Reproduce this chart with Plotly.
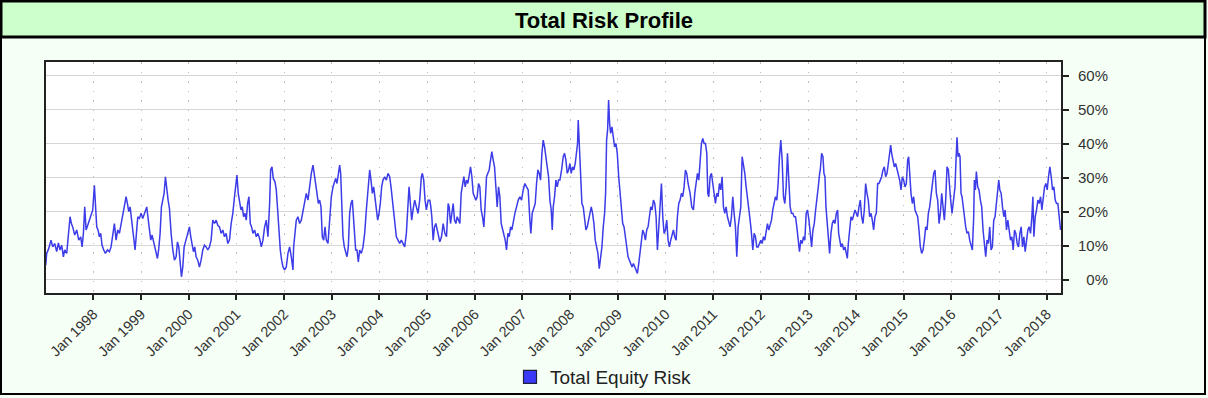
import pandas as pd
import plotly.graph_objects as go

# ---- data: decimal-year dates and total equity risk (%) ----
years_1997_99 = [
    1997.000, 1997.020, 1997.062, 1997.111, 1997.146, 1997.188, 1997.230, 1997.265, 1997.300, 1997.335,
    1997.370, 1997.398, 1997.440, 1997.482, 1997.510, 1997.538, 1997.566, 1997.608, 1997.650, 1997.692,
    1997.734, 1997.762, 1997.790, 1997.818, 1997.846, 1997.881, 1997.916, 1997.951, 1997.986, 1998.021,
    1998.042, 1998.070, 1998.098, 1998.126, 1998.154, 1998.182, 1998.217, 1998.252, 1998.294, 1998.336,
    1998.371, 1998.406, 1998.441, 1998.476, 1998.511, 1998.546, 1998.581, 1998.616, 1998.651, 1998.686,
    1998.714, 1998.742, 1998.770, 1998.798, 1998.826, 1998.854, 1998.875, 1998.903, 1998.931, 1998.966,
    1999.001, 1999.036, 1999.078, 1999.120, 1999.148, 1999.176, 1999.204, 1999.232, 1999.260, 1999.288,
    1999.316, 1999.344, 1999.372, 1999.400, 1999.428, 1999.456, 1999.484, 1999.512, 1999.540, 1999.568,
]
risk_1997_99 = [
    4.2, 7.7, 9.1, 11.6, 9.6, 10.6, 8.2, 10.8, 8.7, 10.1,
    6.7, 8.7, 7.7, 13.6, 18.5, 16.5, 15.5, 13.1, 14.6, 11.6,
    12.6, 9.6, 13.6, 21.4, 14.6, 16.0, 17.5, 18.5, 20.5, 27.8,
    20.5, 15.5, 14.6, 12.6, 13.6, 10.1, 8.7, 7.7, 8.7, 8.2,
    9.6, 13.6, 16.5, 11.6, 14.6, 13.6, 16.5, 18.5, 21.4, 24.4,
    22.4, 20.0, 21.4, 17.5, 13.6, 9.6, 8.7, 13.6, 18.5, 18.0,
    19.5, 18.0, 20.0, 21.4, 18.0, 13.6, 11.6, 13.1, 11.1, 9.6,
    8.2, 6.2, 9.1, 13.6, 21.4, 23.4, 25.4, 30.3, 26.4, 23.4,
]

years_1999_02 = [
    1999.596, 1999.610, 1999.631, 1999.666, 1999.701, 1999.736, 1999.764, 1999.792, 1999.820, 1999.848,
    1999.876, 1999.904, 1999.932, 1999.960, 1999.988, 2000.016, 2000.044, 2000.072, 2000.100, 2000.128,
    2000.156, 2000.191, 2000.226, 2000.261, 2000.296, 2000.331, 2000.366, 2000.401, 2000.436, 2000.471,
    2000.506, 2000.541, 2000.576, 2000.611, 2000.646, 2000.681, 2000.716, 2000.751, 2000.786, 2000.821,
    2000.856, 2000.891, 2000.926, 2000.954, 2000.982, 2001.010, 2001.038, 2001.066, 2001.094, 2001.122,
    2001.150, 2001.178, 2001.206, 2001.234, 2001.262, 2001.290, 2001.318, 2001.346, 2001.381, 2001.416,
    2001.451, 2001.486, 2001.521, 2001.556, 2001.591, 2001.626, 2001.661, 2001.696, 2001.717, 2001.745,
    2001.773, 2001.808, 2001.836, 2001.864, 2001.892, 2001.920, 2001.948, 2001.976, 2002.011, 2002.046,
    2002.081, 2002.116, 2002.151, 2002.186, 2002.200, 2002.221, 2002.256, 2002.291,
]
risk_1999_02 = [
    21.0, 17.5, 13.6, 8.7, 5.7, 6.7, 11.1, 9.6, 5.7, 0.8,
    3.7, 9.6, 11.1, 12.6, 14.6, 15.5, 12.6, 9.6, 8.2, 9.6,
    6.7, 5.7, 3.7, 5.7, 8.7, 10.1, 9.6, 8.7, 9.6, 11.6,
    17.5, 16.5, 17.5, 16.0, 15.5, 13.6, 14.6, 12.6, 13.6, 10.6,
    11.6, 16.5, 19.5, 23.4, 27.3, 30.8, 25.4, 22.4, 20.5, 21.4,
    18.5, 19.5, 17.5, 22.4, 24.4, 16.5, 15.5, 13.6, 14.6, 12.6,
    13.6, 12.1, 9.6, 11.6, 15.5, 17.5, 12.6, 22.4, 32.3, 33.2,
    29.8, 28.8, 26.4, 20.5, 12.6, 8.7, 5.7, 3.7, 2.8, 3.7,
    7.7, 9.6, 6.7, 2.8, 9.6, 13.6, 17.5, 18.5,
]

years_2002_05 = [
    2002.326, 2002.361, 2002.396, 2002.431, 2002.466, 2002.501, 2002.536, 2002.571, 2002.606, 2002.634,
    2002.662, 2002.690, 2002.718, 2002.746, 2002.774, 2002.802, 2002.830, 2002.858, 2002.886, 2002.921,
    2002.956, 2002.991, 2003.026, 2003.054, 2003.082, 2003.110, 2003.138, 2003.166, 2003.187, 2003.208,
    2003.236, 2003.264, 2003.292, 2003.320, 2003.348, 2003.376, 2003.404, 2003.432, 2003.460, 2003.481,
    2003.502, 2003.530, 2003.558, 2003.586, 2003.621, 2003.656, 2003.691, 2003.726, 2003.761, 2003.796,
    2003.824, 2003.852, 2003.880, 2003.908, 2003.936, 2003.964, 2003.992, 2004.020, 2004.048, 2004.076,
    2004.111, 2004.146, 2004.181, 2004.216, 2004.244, 2004.272, 2004.300, 2004.328, 2004.356, 2004.391,
    2004.426, 2004.461, 2004.496, 2004.531, 2004.566, 2004.594, 2004.622, 2004.650, 2004.678, 2004.706,
    2004.741, 2004.776, 2004.811, 2004.846, 2004.881, 2004.902, 2004.930, 2004.958, 2004.986, 2005.021,
]
risk_2002_05 = [
    16.5, 17.5, 20.5, 22.4, 25.4, 23.4, 28.3, 31.3, 33.7, 30.3,
    27.3, 25.4, 22.4, 23.4, 21.4, 12.6, 11.6, 15.5, 11.6, 10.6,
    17.5, 24.4, 27.3, 28.3, 29.8, 28.3, 31.3, 33.7, 31.3, 19.5,
    12.6, 9.6, 7.7, 6.7, 9.6, 19.5, 22.4, 23.4, 17.5, 11.6,
    8.7, 8.7, 5.2, 8.7, 7.7, 9.6, 13.6, 20.5, 25.4, 32.3,
    29.3, 25.4, 27.3, 24.4, 20.5, 17.5, 19.5, 22.4, 27.3, 29.3,
    30.3, 29.3, 31.3, 30.3, 27.3, 23.4, 18.5, 14.6, 12.6, 11.6,
    10.6, 11.6, 10.6, 9.6, 13.6, 20.5, 27.3, 22.4, 17.5, 20.5,
    23.4, 21.4, 19.5, 23.4, 30.3, 31.3, 29.3, 23.4, 20.5, 23.4,
]

years_2005_07 = [
    2005.056, 2005.077, 2005.098, 2005.126, 2005.154, 2005.182, 2005.210, 2005.238, 2005.266, 2005.301,
    2005.336, 2005.371, 2005.406, 2005.441, 2005.462, 2005.490, 2005.518, 2005.546, 2005.574, 2005.602,
    2005.630, 2005.658, 2005.686, 2005.714, 2005.742, 2005.770, 2005.798, 2005.826, 2005.854, 2005.882,
    2005.910, 2005.938, 2005.966, 2005.994, 2006.022, 2006.050, 2006.078, 2006.106, 2006.134, 2006.162,
    2006.190, 2006.218, 2006.246, 2006.274, 2006.302, 2006.330, 2006.358, 2006.386, 2006.414, 2006.442,
    2006.470, 2006.498, 2006.526, 2006.554, 2006.582, 2006.610, 2006.638, 2006.666, 2006.694, 2006.722,
    2006.750, 2006.778, 2006.806, 2006.841, 2006.876, 2006.911, 2006.946, 2006.981, 2007.016, 2007.051,
    2007.086, 2007.121, 2007.156, 2007.177, 2007.205, 2007.240, 2007.268, 2007.296, 2007.324, 2007.352,
    2007.380, 2007.408, 2007.436, 2007.464, 2007.492, 2007.520, 2007.548, 2007.576, 2007.604, 2007.625,
    2007.646, 2007.674, 2007.702, 2007.730, 2007.758,
]
risk_2005_07 = [
    23.4, 21.4, 18.5, 11.6, 15.5, 16.5, 14.6, 12.6, 11.1, 12.6,
    16.5, 13.6, 12.6, 22.4, 21.4, 16.5, 20.5, 22.4, 17.5, 16.5,
    18.5, 17.5, 16.5, 25.4, 27.3, 30.3, 27.3, 29.3, 28.3, 30.3,
    33.2, 30.3, 25.4, 24.4, 23.4, 24.4, 28.3, 27.3, 20.5, 18.5,
    15.5, 22.4, 30.3, 31.3, 32.3, 35.2, 37.7, 35.2, 33.2, 27.3,
    21.4, 27.3, 24.4, 16.5, 14.6, 13.6, 11.6, 8.7, 13.6, 12.6,
    15.5, 14.6, 17.5, 19.5, 21.4, 23.4, 24.4, 23.4, 26.4, 28.3,
    27.3, 26.4, 17.5, 13.6, 19.5, 21.4, 22.4, 28.3, 32.3, 31.3,
    29.3, 37.2, 41.1, 39.1, 35.2, 33.2, 30.3, 23.4, 20.5, 14.6,
    21.4, 24.4, 29.3, 27.3, 29.3,
]

years_2007_10 = [
    2007.786, 2007.821, 2007.856, 2007.884, 2007.912, 2007.940, 2007.968, 2007.996, 2008.024, 2008.052,
    2008.080, 2008.108, 2008.136, 2008.157, 2008.171, 2008.192, 2008.206, 2008.220, 2008.248, 2008.276,
    2008.304, 2008.332, 2008.360, 2008.388, 2008.416, 2008.444, 2008.472, 2008.500, 2008.528, 2008.556,
    2008.584, 2008.612, 2008.640, 2008.668, 2008.696, 2008.724, 2008.745, 2008.766, 2008.787, 2008.808,
    2008.829, 2008.850, 2008.878, 2008.906, 2008.934, 2008.962, 2008.990, 2009.018, 2009.046, 2009.074,
    2009.102, 2009.130, 2009.158, 2009.186, 2009.214, 2009.242, 2009.270, 2009.298, 2009.326, 2009.354,
    2009.382, 2009.410, 2009.438, 2009.466, 2009.494, 2009.522, 2009.550, 2009.578, 2009.606, 2009.634,
    2009.662, 2009.690, 2009.718, 2009.746, 2009.774, 2009.802, 2009.830, 2009.858, 2009.886, 2009.914,
    2009.942, 2009.970, 2009.998, 2010.026, 2010.054, 2010.082, 2010.110, 2010.138, 2010.166, 2010.194,
    2010.222, 2010.250, 2010.278, 2010.306, 2010.334, 2010.362, 2010.390, 2010.418, 2010.446, 2010.474,
]
risk_2007_10 = [
    29.3, 32.3, 36.2, 37.2, 35.2, 31.3, 32.3, 34.2, 31.3, 33.2,
    32.3, 34.2, 38.2, 40.1, 47.0, 40.1, 33.2, 26.4, 22.4, 21.4,
    18.5, 14.6, 15.5, 17.5, 19.5, 21.4, 19.5, 16.5, 11.6, 9.6,
    7.7, 3.2, 5.7, 9.6, 15.5, 19.5, 25.4, 41.1, 44.1, 52.9,
    46.0, 43.1, 45.0, 42.1, 39.1, 40.1, 37.2, 30.3, 25.4, 21.4,
    16.5, 15.5, 12.6, 9.6, 6.7, 5.7, 4.7, 3.7, 4.7, 3.7,
    2.8, 1.8, 4.7, 7.7, 11.6, 14.6, 13.6, 11.6, 14.6, 15.5,
    18.5, 21.4, 20.5, 23.4, 22.4, 18.5, 8.7, 16.5, 24.4, 28.3,
    18.5, 13.6, 14.6, 17.5, 11.6, 9.6, 11.6, 13.6, 14.6, 12.6,
    11.6, 18.5, 22.4, 23.4, 25.4, 24.4, 27.3, 32.3, 31.3, 28.3,
]

years_2010_13 = [
    2010.516, 2010.551, 2010.586, 2010.614, 2010.642, 2010.670, 2010.698, 2010.726, 2010.754, 2010.782,
    2010.810, 2010.838, 2010.866, 2010.887, 2010.908, 2010.936, 2010.964, 2010.992, 2011.020, 2011.048,
    2011.076, 2011.104, 2011.132, 2011.160, 2011.188, 2011.216, 2011.244, 2011.272, 2011.300, 2011.328,
    2011.356, 2011.384, 2011.412, 2011.440, 2011.468, 2011.496, 2011.524, 2011.552, 2011.580, 2011.608,
    2011.636, 2011.664, 2011.692, 2011.720, 2011.748, 2011.776, 2011.804, 2011.832, 2011.860, 2011.888,
    2011.916, 2011.944, 2011.972, 2012.000, 2012.028, 2012.056, 2012.084, 2012.112, 2012.140, 2012.168,
    2012.196, 2012.224, 2012.252, 2012.280, 2012.308, 2012.336, 2012.364, 2012.392, 2012.420, 2012.448,
    2012.476, 2012.504, 2012.532, 2012.560, 2012.588, 2012.616, 2012.644, 2012.672, 2012.700, 2012.728,
    2012.756, 2012.784, 2012.812, 2012.840, 2012.868, 2012.896, 2012.924, 2012.952, 2012.980, 2013.008,
    2013.036, 2013.064, 2013.092, 2013.120, 2013.148, 2013.176, 2013.204, 2013.232,
]
risk_2010_13 = [
    25.4, 21.4, 20.5, 25.4, 28.3, 31.3, 29.3, 36.2, 40.1, 41.6,
    40.1, 40.1, 37.2, 25.4, 24.4, 30.3, 31.3, 28.3, 24.4, 22.4,
    25.4, 24.4, 28.3, 26.4, 30.3, 21.4, 19.5, 21.4, 18.5, 16.5,
    15.5, 18.5, 24.4, 19.5, 15.5, 6.7, 15.5, 18.5, 21.4, 36.2,
    34.2, 31.3, 27.3, 24.4, 21.4, 17.5, 13.6, 8.7, 13.6, 12.6,
    9.6, 9.6, 10.6, 11.6, 10.6, 12.6, 11.6, 13.6, 16.5, 14.6,
    16.5, 17.5, 20.5, 22.4, 24.4, 23.4, 28.3, 36.2, 41.1, 35.2,
    24.4, 22.4, 27.3, 37.2, 29.3, 21.4, 19.5, 19.5, 18.5, 18.5,
    15.5, 10.6, 8.2, 11.6, 10.6, 12.6, 11.6, 19.5, 20.5, 17.5,
    13.6, 9.6, 14.6, 16.5, 20.5, 23.4, 27.3, 31.3,
]

years_2013_15 = [
    2013.246, 2013.274, 2013.302, 2013.323, 2013.344, 2013.365, 2013.386, 2013.414, 2013.442, 2013.470,
    2013.498, 2013.526, 2013.554, 2013.582, 2013.610, 2013.631, 2013.652, 2013.680, 2013.708, 2013.736,
    2013.764, 2013.792, 2013.813, 2013.834, 2013.862, 2013.890, 2013.918, 2013.946, 2013.974, 2014.002,
    2014.030, 2014.058, 2014.086, 2014.114, 2014.142, 2014.170, 2014.198, 2014.226, 2014.254, 2014.282,
    2014.310, 2014.338, 2014.366, 2014.394, 2014.422, 2014.450, 2014.478, 2014.506, 2014.534, 2014.562,
    2014.590, 2014.618, 2014.646, 2014.674, 2014.702, 2014.723, 2014.744, 2014.772, 2014.800, 2014.828,
    2014.856, 2014.884, 2014.912, 2014.940, 2014.968, 2014.996, 2015.024, 2015.052, 2015.080, 2015.101,
    2015.122, 2015.150, 2015.178, 2015.206, 2015.234, 2015.262, 2015.290, 2015.318, 2015.346, 2015.374,
    2015.402, 2015.430, 2015.458, 2015.486, 2015.514, 2015.542, 2015.570, 2015.598, 2015.626, 2015.654,
    2015.682, 2015.710, 2015.738, 2015.766, 2015.794, 2015.822, 2015.850, 2015.878, 2015.906, 2015.934,
    2015.962,
]
risk_2013_15 = [
    32.3, 37.2, 36.2, 31.3, 30.3, 21.4, 17.5, 13.6, 7.7, 13.6,
    16.5, 17.5, 16.5, 19.5, 20.5, 13.6, 11.6, 9.6, 10.6, 8.7,
    9.6, 7.7, 6.2, 10.6, 15.5, 18.5, 17.5, 19.5, 20.5, 19.5,
    18.5, 21.4, 23.4, 18.5, 16.5, 20.5, 28.3, 25.4, 23.4, 18.5,
    19.5, 17.5, 14.6, 18.5, 19.5, 28.3, 28.3, 29.3, 30.3, 32.3,
    33.2, 30.3, 31.3, 34.2, 37.2, 39.6, 37.2, 35.2, 33.2, 34.2,
    32.3, 31.3, 29.3, 26.4, 30.3, 29.3, 27.3, 28.3, 35.2, 36.2,
    30.3, 25.4, 22.4, 24.4, 20.5, 19.5, 18.5, 14.6, 9.6, 7.7,
    8.7, 11.6, 15.5, 14.6, 19.5, 21.4, 25.4, 27.3, 31.3, 32.3,
    25.4, 23.4, 16.5, 19.5, 25.4, 21.4, 17.5, 23.4, 33.2, 32.3,
    24.4,
]

years_2016_18 = [
    2015.976, 2016.011, 2016.046, 2016.074, 2016.095, 2016.116, 2016.137, 2016.158, 2016.179, 2016.200,
    2016.221, 2016.242, 2016.270, 2016.298, 2016.326, 2016.354, 2016.382, 2016.410, 2016.438, 2016.466,
    2016.480, 2016.501, 2016.522, 2016.550, 2016.578, 2016.606, 2016.634, 2016.662, 2016.690, 2016.718,
    2016.746, 2016.774, 2016.802, 2016.830, 2016.858, 2016.886, 2016.914, 2016.942, 2016.970, 2016.991,
    2017.012, 2017.040, 2017.068, 2017.096, 2017.124, 2017.152, 2017.180, 2017.208, 2017.236, 2017.264,
    2017.292, 2017.320, 2017.348, 2017.376, 2017.404, 2017.432, 2017.460, 2017.488, 2017.516, 2017.544,
    2017.572, 2017.600, 2017.628, 2017.656, 2017.684, 2017.705, 2017.726, 2017.754, 2017.782, 2017.810,
    2017.838, 2017.866, 2017.894, 2017.922, 2017.950, 2017.978, 2018.006, 2018.034, 2018.062, 2018.090,
    2018.118, 2018.146, 2018.174, 2018.202, 2018.230, 2018.258, 2018.286,
]
risk_2016_18 = [
    24.4, 19.5, 23.4, 27.3, 35.2, 41.9, 36.2, 37.2, 36.2, 25.4,
    24.4, 21.4, 19.5, 15.5, 13.6, 14.1, 11.6, 9.6, 8.7, 18.5,
    29.3, 26.4, 31.8, 27.3, 26.4, 23.4, 21.4, 14.6, 9.6, 6.7,
    11.6, 10.6, 15.5, 8.7, 9.6, 17.5, 18.5, 23.4, 26.4, 29.3,
    26.4, 25.4, 21.4, 18.5, 20.5, 14.6, 17.5, 13.6, 11.6, 12.6,
    8.7, 14.6, 13.6, 10.6, 9.6, 13.6, 15.5, 9.6, 12.6, 8.2,
    11.6, 14.6, 15.5, 13.6, 18.5, 24.4, 12.6, 18.5, 20.5, 23.4,
    22.4, 24.4, 20.5, 23.4, 27.3, 28.3, 26.4, 30.3, 33.2, 30.3,
    26.4, 27.3, 23.4, 22.4, 22.4, 18.5, 14.6,
]

series_name = "Total Equity Risk"
chart_title = "Total Risk Profile"
y_ticks = [0, 10, 20, 30, 40, 50, 60]

# ---- assemble ----
year_segments = [years_1997_99, years_1999_02, years_2002_05, years_2005_07,
                 years_2007_10, years_2010_13, years_2013_15, years_2016_18]
risk_segments = [risk_1997_99, risk_1999_02, risk_2002_05, risk_2005_07,
                 risk_2007_10, risk_2010_13, risk_2013_15, risk_2016_18]
years, risk = [], []
for ys, rs in zip(year_segments, risk_segments):
    assert len(ys) == len(rs), (len(ys), len(rs))
    years += ys
    risk += rs


def to_date(y):
    yi = int(y)
    return pd.Timestamp(yi, 1, 1) + pd.Timedelta(days=(y - yi) * 365.25)


dates = [to_date(y) for y in years]

# ---- figure geometry (pixels) ----
W, H = 1208, 398
PL, PR, PT, PB = 46, 1061, 62, 293  # plot area edges


def px_x(px):
    return (px - PL) / (PR - PL)


def px_y(py):
    return (PB - py) / (PB - PT)


FONT = "Liberation Sans, Arial, sans-serif"
LINE_COLOR = "#3c3ce8"

fig = go.Figure()
fig.add_trace(go.Scatter(
    x=dates, y=risk, mode="lines",
    line=dict(color=LINE_COLOR, width=1.5),
    showlegend=False, hoverinfo="x+y",
))
fig.add_trace(go.Scatter(
    x=[None], y=[None], mode="markers", name=series_name,
    marker=dict(symbol="square", size=13, color="#3a3af8",
                line=dict(color="#202040", width=1.2)),
))

tick_text = [("\u2007" if v < 10 else "") + f"{v}%" for v in y_ticks]

fig.update_layout(
    width=W, height=H, autosize=False,
    margin=dict(l=PL, r=W - PR, t=PT, b=H - PB, pad=0, autoexpand=False),
    paper_bgcolor="#f5fff5",
    plot_bgcolor="#ffffff",
    font=dict(family=FONT, color="#333333"),
    title=dict(text=f"<b>{chart_title}</b>", x=0.5, xref="container", xanchor="center",
               y=1 - 20 / H, yref="container", yanchor="middle",
               font=dict(family=FONT, size=22, color="#000000")),
    xaxis=dict(
        type="date", automargin=False,
        range=["1997-01-03", "2018-04-19"],
        tick0="1998-01-01", dtick="M12", tickformat="%b %Y",
        tickangle=-45, ticks="outside", ticklen=5, tickwidth=1.5, tickcolor="#222222",
        tickfont=dict(size=14.5, color="#333333", family=FONT),
        showgrid=True, gridcolor="#bdbdbd", gridwidth=1, griddash="1.5px,8px",
        showline=True, linecolor="#222222", linewidth=2, mirror=True,
        zeroline=False,
    ),
    yaxis=dict(
        side="right", automargin=False,
        range=[-3.98, 64.12],
        tickvals=y_ticks, ticktext=tick_text,
        ticks="outside", ticklen=6, tickwidth=1.5, tickcolor="#222222",
        ticklabelstandoff=6,
        tickfont=dict(size=15, color="#333333", family=FONT),
        showgrid=True, gridcolor="#d6d6d6", gridwidth=1,
        showline=True, linecolor="#222222", linewidth=2, mirror=True,
        zeroline=False,
    ),
    showlegend=True,
    legend=dict(orientation="h", x=px_x(510), xanchor="left", y=px_y(377), yanchor="middle",
                bgcolor="rgba(0,0,0,0)", font=dict(size=19, color="#222222", family=FONT),
                itemclick=False, itemdoubleclick=False),
    shapes=[
        dict(type="rect", xref="paper", yref="paper", layer="below",
             x0=px_x(1), x1=px_x(1205), y0=px_y(37), y1=px_y(1),
             fillcolor="#ccffcc", line=dict(color="#000000", width=3)),
        dict(type="rect", xref="paper", yref="paper", layer="below",
             x0=px_x(1), x1=px_x(1205), y0=px_y(394), y1=px_y(1),
             fillcolor="rgba(0,0,0,0)", line=dict(color="#000000", width=2)),
    ],
)

fig.write_html("out.html", config={"displayModeBar": False},
               post_script="document.body.style.margin='0';")
